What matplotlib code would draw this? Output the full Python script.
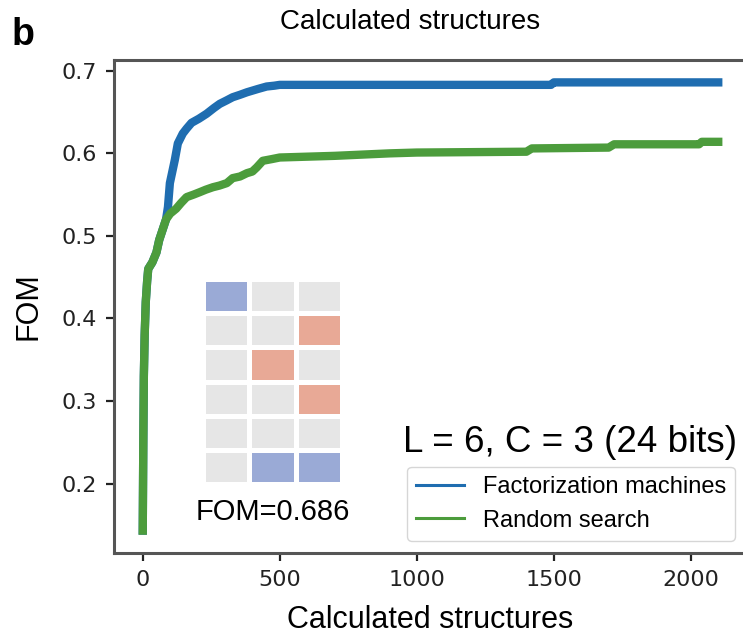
import numpy as np
import matplotlib
matplotlib.use("Agg")
import matplotlib.pyplot as plt
from matplotlib.colors import ListedColormap
from matplotlib.lines import Line2D

# best FOM found so far vs. number of calculated structures
fm_x = [0, 2, 4, 7, 11, 16, 20, 35, 50, 60, 70, 85, 92, 99, 108, 117, 128, 146, 160,
        178, 205, 233, 260, 281, 305, 328, 355, 380, 420, 452, 480, 500, 800, 1490,
        1500, 2100]
fm_y = [0.143, 0.25, 0.33, 0.38, 0.42, 0.445, 0.46, 0.468, 0.48, 0.495, 0.505, 0.52,
        0.535, 0.564, 0.578, 0.592, 0.612, 0.624, 0.630, 0.637, 0.642, 0.648, 0.655,
        0.660, 0.664, 0.668, 0.671, 0.674, 0.678, 0.681, 0.682, 0.683, 0.683, 0.683,
        0.686, 0.686]

rs_x = [0, 2, 4, 7, 11, 16, 20, 35, 50, 60, 70, 85, 100, 122, 140, 160, 185, 208,
        230, 256, 280, 307, 328, 355, 380, 400, 416, 438, 470, 500, 700, 900, 1000,
        1400, 1420, 1700, 1720, 2030, 2040, 2100]
rs_y = [0.143, 0.25, 0.33, 0.38, 0.42, 0.445, 0.46, 0.468, 0.48, 0.495, 0.505, 0.52,
        0.527, 0.533, 0.540, 0.547, 0.550, 0.553, 0.556, 0.559, 0.561, 0.564, 0.570,
        0.572, 0.576, 0.578, 0.583, 0.591, 0.593, 0.595, 0.597, 0.600, 0.601, 0.602,
        0.606, 0.607, 0.611, 0.611, 0.614, 0.614]

# best structure: -1 / 0 / +1 per site (6 layers x 3 components)
best_grid = np.array([
    [-1, 0, 0],
    [0, 0, 1],
    [0, 1, 0],
    [0, 0, 1],
    [0, 0, 0],
    [0, -1, -1],
])
best_fom = 0.686

blue = "#1f6db0"
green = "#4c9c3c"
sans = ["Liberation Sans", "DejaVu Sans"]

fig = plt.figure(figsize=(7.43, 6.36), dpi=100)
ax = fig.add_axes([0.1534, 0.1305, 0.852, 0.7752])

ax.plot(fm_x, fm_y, color=blue, lw=6)
ax.plot(rs_x, rs_y, color=green, lw=6)

ax.set_xticks([0, 500, 1000, 1500, 2000])
ax.set_yticks([0.2, 0.3, 0.4, 0.5, 0.6, 0.7])
ax.tick_params(labelsize=16, length=6, width=1.6, pad=6, colors="#222222")
for sp in ax.spines.values():
    sp.set_linewidth(2.2)
    sp.set_color("#555555")

ax.set_xlabel("Calculated structures", fontsize=22, family=sans, labelpad=11)
ax.set_ylabel("FOM", fontsize=22, family=sans, labelpad=13)

handles = [Line2D([], [], color=blue, lw=2.2), Line2D([], [], color=green, lw=2.2)]
ax.legend(handles, ["Factorization machines", "Random search"], loc="lower right",
          prop={"family": sans, "size": 17})

ax.text(0.992, 0.2893, "L = 6, C = 3 (24 bits)", transform=fig.transFigure,
        ha="right", va="baseline", fontsize=26.5, family=sans)

# inset with the best structure
ins = fig.add_axes([0.2732, 0.239, 0.1871, 0.3223])
cmap = ListedColormap(["#9aaad6", "#e6e6e6", "#e8a996"])
ins.pcolormesh(best_grid[::-1], cmap=cmap, vmin=-1.5, vmax=1.5,
               edgecolors="white", linewidth=3.5)
ins.set_axis_off()
fig.text(0.3674, 0.1824, f"FOM={best_fom:.3f}", ha="center", va="baseline",
         fontsize=21, family=sans)

fig.text(0.552, 0.955, "Calculated structures", ha="center", va="baseline",
         fontsize=20, family=sans)
fig.text(0.016, 0.93, "b", ha="left", va="baseline", fontsize=27,
         fontweight="bold", family=sans)

fig.savefig("out.png", dpi=100)
